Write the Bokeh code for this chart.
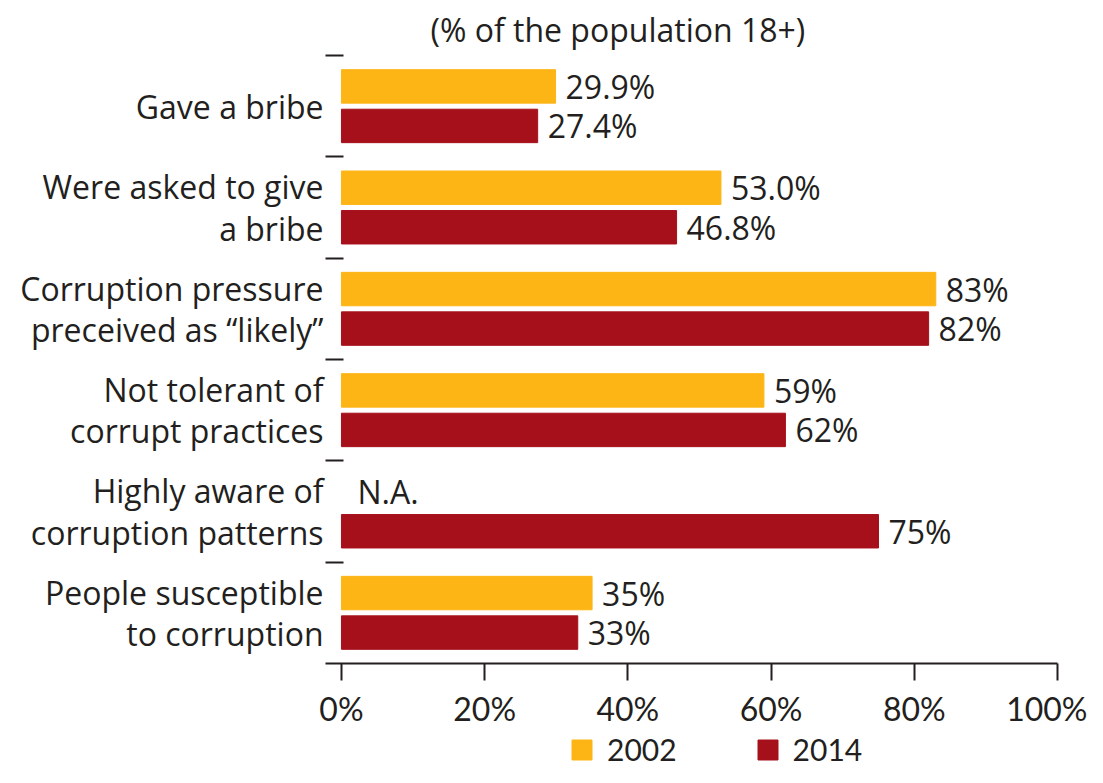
from bokeh.plotting import figure
from bokeh.layouts import column
from bokeh.models import (ColumnDataSource, Range1d, FixedTicker, PrintfTickFormatter,
                          Legend, LegendItem)
from bokeh.core.properties import value
from bokeh.embed import file_html
from bokeh.resources import INLINE

# ---- data ----
categories = [
    "Gave a bribe",
    "Were asked to give\na bribe",
    "Corruption pressure\npreceived as \u201clikely\u201d",
    "Not tolerant of\ncorrupt practices",
    "Highly aware of\ncorruption patterns",
    "People susceptible\nto corruption",
]
values_2002 = [29.9, 53.0, 83, 59, None, 35]
values_2014 = [27.4, 46.8, 82, 62, 75, 33]
labels_2002 = ["29.9%", "53.0%", "83%", "59%", "N.A.", "35%"]
labels_2014 = ["27.4%", "46.8%", "82%", "62%", "75%", "33%"]
x_ticks = [0, 20, 40, 60, 80, 100]
series_names = ["2002", "2014"]

# ---- style ----
FONT = "Open Sans"
FONT2 = "Lato"
TXT = "#231f20"
YELLOW = "#fdb515"
RED = "#a6101b"
FS = "32px"
OFF = 0.195
BAR_H = 0.33

n = len(categories)
centers = [i + 0.5 for i in range(n)]

def bar_source(vals, labels, off):
    ys, rs, ly, lx, lt, ny, nt = [], [], [], [], [], [], []
    for c, v, l in zip(centers, vals, labels):
        if v is not None:
            ys.append(c + off)
            rs.append(v)
            ly.append(c + off)
            lx.append(v)
            lt.append(l)
        else:
            ny.append(c + off)
            nt.append(l)
    return (ColumnDataSource(dict(y=ys, right=rs)),
            ColumnDataSource(dict(y=ly, x=lx, text=lt)),
            ColumnDataSource(dict(y=ny, x=[0] * len(ny), text=nt)))

s02, l02, n02 = bar_source(values_2002, labels_2002, -OFF)
s14, l14, n14 = bar_source(values_2014, labels_2014, OFF)

W, H = 1087, 767
FL, FR, FT, FB = 325, 1057, 55, 666
LEG_H = 37
MAIN_H = H - LEG_H
p = figure(width=W, height=MAIN_H, x_range=Range1d(-2.23, 100), y_range=Range1d(n, 0),
           output_backend="svg", toolbar_location=None,
           min_border_left=FL, min_border_right=W - FR, min_border_top=FT,
           min_border_bottom=MAIN_H - FB,
           outline_line_color=None, background_fill_color="white", border_fill_color="white")
p.grid.visible = False

r02 = p.hbar(y="y", right="right", left=0, height=BAR_H, source=s02,
             fill_color=YELLOW, line_color=YELLOW, line_width=1)
r14 = p.hbar(y="y", right="right", left=0, height=BAR_H, source=s14,
             fill_color=RED, line_color=RED, line_width=1)

for src in (l02, l14):
    p.text(x="x", y="y", text="text", source=src, x_offset=10, text_align="left",
           text_baseline="middle", text_font=value(FONT), text_font_size=FS, text_color=TXT)
for src in (n02, n14):
    p.text(x="x", y="y", text="text", source=src, x_offset=16, text_align="left",
           text_baseline="middle", text_font=value(FONT), text_font_size=FS, text_color=TXT)

# x axis
xa = p.xaxis[0]
xa.ticker = FixedTicker(ticks=x_ticks)
xa.formatter = PrintfTickFormatter(format="%d%%")
xa.axis_line_width = 2
xa.axis_line_color = TXT
xa.major_tick_out = 17
xa.major_tick_in = 0
xa.major_tick_line_width = 2
xa.major_tick_line_color = TXT
xa.minor_tick_line_color = None
xa.major_label_standoff = 8
xa.major_label_text_font = FONT2
xa.major_label_text_font_size = FS
xa.major_label_text_color = TXT

# y axis
ya = p.yaxis[0]
ya.ticker = FixedTicker(ticks=centers, minor_ticks=list(range(n)))
ya.major_label_overrides = {c: cat for c, cat in zip(centers, categories)}
ya.axis_line_color = None
ya.major_tick_in = 0
ya.major_tick_out = 0
ya.minor_tick_in = 18
ya.minor_tick_out = 0
ya.minor_tick_line_width = 2
ya.minor_tick_line_color = TXT
ya.major_label_standoff = 2
ya.major_label_text_font = FONT
ya.major_label_text_font_size = FS
ya.major_label_text_color = TXT
ya.major_label_text_line_height = 0.96

# title
p.title.text = "(% of the population 18+)"
p.title.text_font = FONT
p.title.text_font_size = FS
p.title.text_font_style = "normal"
p.title.text_color = TXT
p.title.align = "left"
p.title.offset = 105

# legend strip below (its frame lines up with the main plot's frame)
q = figure(width=W, height=LEG_H, x_range=Range1d(0, 100), y_range=Range1d(100, 101),
           output_backend="svg", toolbar_location=None, min_border=0,
           outline_line_color=None, background_fill_color="white", border_fill_color="white")
q.axis.visible = False
q.grid.visible = False
d02 = q.hbar(y="y", right="right", left=0, height=BAR_H, source=s02,
             fill_color=YELLOW, line_color=YELLOW)
d14 = q.hbar(y="y", right="right", left=0, height=BAR_H, source=s14,
             fill_color=RED, line_color=RED)
legend = Legend(items=[LegendItem(label=series_names[0], renderers=[d02]),
                       LegendItem(label=series_names[1], renderers=[d14])],
                orientation="horizontal", location=(569 - FL, 0),
                padding=0, margin=0, border_line_color=None, background_fill_alpha=0,
                glyph_width=25, glyph_height=25, label_standoff=13, spacing=78,
                label_text_font=FONT2, label_text_font_size="30px", label_text_color=TXT)
q.add_layout(legend)

layout = column(p, q, spacing=0)
open("out.html", "w").write(file_html(layout, INLINE))
